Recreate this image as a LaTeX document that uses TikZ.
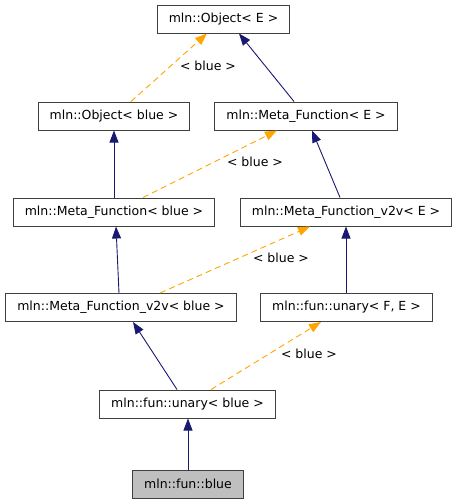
\documentclass[tikz,border=0pt]{standalone}
\usepackage[svgnames]{xcolor}
\usepackage{fontspec}
\setmainfont{DejaVu Sans}
\usepackage{tikz}
\usetikzlibrary{arrows.meta}
\usetikzlibrary{calc}
\tikzset{>={Triangle[length=12pt,width=9pt]}}

\begin{document}
\begin{tikzpicture}[
        x=1pt,y=-1pt,
        every node/.style={font=\fontsize{12.5}{15}\selectfont},
        cls/.style={draw=black!75,line width=1pt,fill=white,inner xsep=11.5pt,inner ysep=0pt,minimum height=28pt},
        here/.style={cls,fill=black!25},
        inherit/.style={MidnightBlue,line width=0.9pt,->},
        templ/.style={Orange,line width=0.9pt,dashed,dash pattern=on 6pt off 4pt,->},
        tlabel/.style={inner sep=0pt}
    ]
    \useasboundingbox (0,0) rectangle (459,504);

    \node[cls] (oe)   at (223.5,19)  {mln::Object< E >};
    \node[cls] (ob)   at (114,116)   {mln::Object< blue >};
    \node[cls] (mfe)  at (306,116)   {mln::Meta\_Function< E >};
    \node[cls] (mfb)  at (114,212)   {mln::Meta\_Function< blue >};
    \node[cls] (v2ve) at (346,212)   {mln::Meta\_Function\_v2v< E >};
    \node[cls] (v2vb) at (121,307.5) {mln::Meta\_Function\_v2v< blue >};
    \node[cls] (unfe) at (346.5,307.5) {mln::fun::unary< F, E >};
    \node[cls] (unb)  at (187.5,404) {mln::fun::unary< blue >};
    \node[here] (blue) at (188,484)  {mln::fun::blue};

    % Object level
    \draw[templ] ([xshift=17pt]ob.north) -- ([xshift=-16.5pt]oe.south);
    \node[tlabel] (l1) at (208,66) {< blue >};
    \draw[inherit] ([xshift=-12pt]mfe.north) -- ([xshift=15.5pt]oe.south);

    % Meta_Function level
    \draw[inherit] (mfb.north) -- (ob.south);
    \draw[templ] ([xshift=29pt]mfb.north) -- ([xshift=-29pt]mfe.south);
    \node[tlabel] (l2) at (255,162) {< blue >};
    \draw[inherit] ([xshift=-6pt]v2ve.north) -- ([xshift=6pt]mfe.south);

    % Meta_Function_v2v level
    \draw[inherit] ([xshift=-2pt]v2vb.north) -- ([xshift=2pt]mfb.south);
    \draw[templ] ([xshift=39pt]v2vb.north) -- ([xshift=-36pt]v2ve.south);
    \node[tlabel] (l3) at (281,258) {< blue >};
    \draw[inherit] ([xshift=-0.5pt]unfe.north) -- (v2ve.south);

    % unary level
    \draw[inherit] ([xshift=-10.5pt]unb.north) -- ([xshift=12pt]v2vb.south);
    \draw[templ] ([xshift=23.5pt]unb.north) -- ([xshift=-25.5pt]unfe.south);
    \node[tlabel] (l4) at (309,354) {< blue >};

    \draw[inherit] (blue.north) -- ([xshift=0.5pt]unb.south);
\end{tikzpicture}
\end{document}
